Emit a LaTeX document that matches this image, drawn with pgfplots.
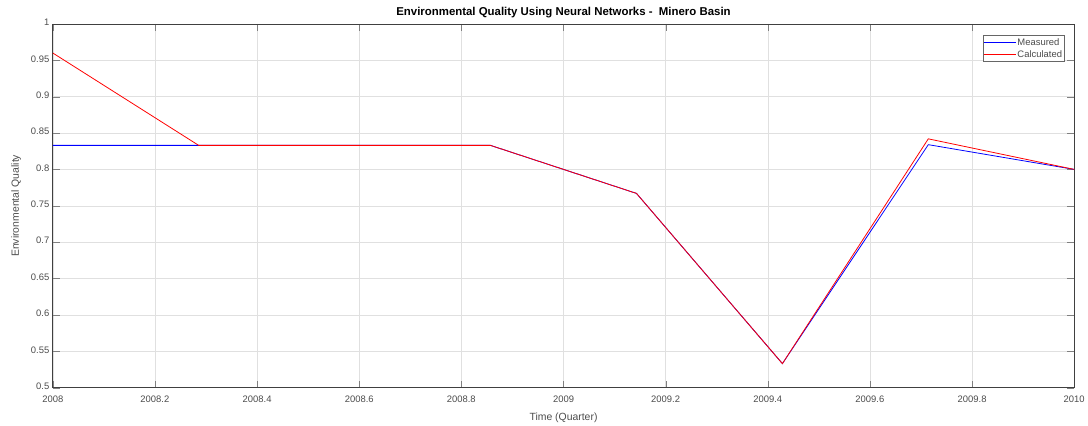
\documentclass[border=0pt]{standalone}
\usepackage{pgfplots}
\pgfplotsset{compat=1.18}
\usepackage{fontspec}
\setmainfont{Liberation Sans}
\begin{document}
\begin{tikzpicture}
\begin{axis}[
  scale only axis, width=1025bp, height=365bp,
  xmin=2008, xmax=2010, ymin=0.5, ymax=1,
  xtick={2008,2008.2,...,2010.01},
  ytick={0.5,0.55,...,1.001},
  tick label style={font=\fontsize{9.5}{11}\selectfont, text=black!70},
  xticklabel style={yshift=-5bp, /pgf/number format/.cd,fixed,precision=1,1000 sep={}},
  yticklabel style={yshift=1.5bp, /pgf/number format/.cd,fixed,precision=2},
  /pgf/number format/assume math mode=true,
  tick align=inside, tick pos=both,
  major tick length=7bp,
  grid=major, grid style={black!12, line width=0.4pt},
  axis line style={black!75, line width=0.8pt},
  xlabel={Time (Quarter)}, ylabel={Environmental Quality},
  label style={font=\fontsize{10.5}{12}\selectfont, text=black!70},
  xlabel style={yshift=-3bp},
  ylabel style={yshift=3bp},
  title={Environmental Quality Using Neural Networks -\ \ Minero Basin},
  title style={font=\bfseries\fontsize{11.5}{13}\selectfont, yshift=-3bp},
  legend style={font=\fontsize{9.5}{10}\selectfont, text=black!70, draw=black!60,
    at={(1,1)}, anchor=north east, xshift=-10bp, yshift=-11bp,
    inner sep=1bp, nodes={inner sep=1bp}},
  legend cell align=left,
  legend image code/.code={\path[draw=none] (0bp,0bp) rectangle (32bp,7bp); \draw[#1] (0bp,1bp) -- (32bp,1bp);},
]
\addplot[color=blue, draw=blue, line width=0.8pt] coordinates {
 (2008,0.833) (2008.2857,0.833) (2008.5714,0.833) (2008.8571,0.833)
 (2009.1429,0.767) (2009.4286,0.533) (2009.7143,0.834) (2010,0.800)};
\addlegendentry{Measured}
\addplot[color=red, draw=red, line width=0.8pt] coordinates {
 (2008,0.960) (2008.2857,0.833) (2008.5714,0.833) (2008.8571,0.833)
 (2009.1429,0.767) (2009.4286,0.533) (2009.7143,0.842) (2010,0.800)};
\addlegendentry{Calculated}
\end{axis}
\path ([shift={(-53bp,-37bp)}]current axis.south west) rectangle ([shift={(10bp,24bp)}]current axis.north east);
\end{tikzpicture}
\end{document}
